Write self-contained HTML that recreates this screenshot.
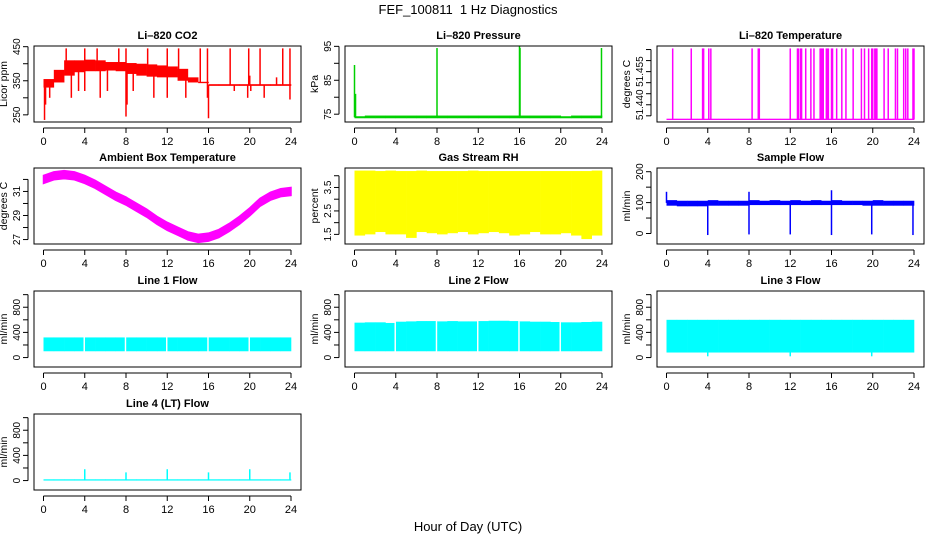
<!DOCTYPE html>
<html><head><meta charset="utf-8"><style>
body{margin:0;background:#fff}
svg{display:block;font-family:"Liberation Sans",Arial,sans-serif}
</style></head><body>
<svg id="chart" width="936" height="540" viewBox="0 0 936 540">
<text x="468" y="14" text-anchor="middle" font-size="13" style="white-space:pre">FEF_100811  1 Hz Diagnostics</text>
<text x="468" y="531" text-anchor="middle" font-size="13">Hour of Day (UTC)</text>
</svg>
<script>
// ---- data ----
const binHours = [0,1,2,3,4,5,6,7,8,9,10,11,12,13,14,15,16,17,18,19,20,21,22,23];
const co2Hi = [355,382,410,410,412,410,405,405,402,400,398,395,392,385,360,347,340,340,340,340,340,340,340,340];
const co2Lo = [330,345,365,375,378,378,380,378,370,365,362,360,360,350,345,343,335,335,335,335,335,335,335,335];
const co2Spikes = [[2.2,445],[4.0,445],[5.2,445],[7.3,445],[8.0,445],[10.1,445],[12.0,445],[13.1,445],[15.2,445],[15.9,445],[18.1,445],[19.9,445],[21.0,445],[23.2,445],[23.9,445],
 [0.1,235],[0.2,280],[0.6,300],[2.7,300],[3.4,320],[4.0,320],[5.5,300],[6.2,320],[8.0,245],[8.1,280],[8.7,320],[10.7,300],[12.0,300],[13.8,300],[16.0,240],[15.9,300],[18.5,320],[19.8,300],[20.1,320],[21.4,300],[23.9,295],[20.0,365],[22.6,360]];
const presHi = [74.4,74.6,74.6,74.6,74.6,74.6,74.6,74.6,74.6,74.6,74.6,74.6,74.6,74.6,74.6,74.6,74.6,74.6,74.6,74.6,74.4,74.6,74.6,74.6];
const presLo = [73.8,73.8,73.8,73.8,73.8,73.8,73.8,73.8,73.8,73.8,73.8,73.8,73.8,73.8,73.8,73.8,73.8,73.8,73.8,73.8,73.8,73.8,73.8,73.8];
const presSpikes = [[0.0,89.5],[0.1,81],[8.0,94.5],[16.0,95],[16.05,94.5],[23.95,94.5]];
const tempHi = [51.4337,51.4337,51.4337,51.4337,51.4337,51.4337,51.4337,51.4337,51.4337,51.4337,51.4337,51.4337,51.4337,51.4337,51.4337,51.4337,51.4337,51.4337,51.4337,51.4337,51.4337,51.4337,51.4337,51.4337];
const tempLo = [51.4331,51.4331,51.4331,51.4331,51.4331,51.4331,51.4331,51.4331,51.4331,51.4331,51.4331,51.4331,51.4331,51.4331,51.4331,51.4331,51.4331,51.4331,51.4331,51.4331,51.4331,51.4331,51.4331,51.4331];
const tempSpikes = [0.6,2.4,3.5,3.6,4.1,4.3,8.3,8.9,9.0,12.0,12.7,12.8,13.0,13.1,13.5,14.0,14.3,14.9,15.0,15.1,15.2,15.5,15.6,15.7,16.0,16.1,16.5,17.0,17.4,18.1,18.9,19.2,19.6,19.9,20.0,20.2,20.3,20.4,21.1,21.5,22.2,22.4,23.0,23.2,23.4,23.9,24.0].map(h=>[h,51.4655]);
const ambHours = [0,1,2,3,4,5,6,7,8,9,10,11,12,13,14,15,16,17,18,19,20,21,22,23,24];
const ambCenter = [32.0,32.3,32.4,32.3,32.0,31.6,31.1,30.6,30.2,29.7,29.2,28.6,28.1,27.7,27.3,27.1,27.2,27.5,28.0,28.6,29.3,30.1,30.6,30.9,31.0];
const rhHi = [4.22,4.22,4.2,4.22,4.2,4.2,4.22,4.2,4.2,4.2,4.2,4.22,4.2,4.2,4.2,4.2,4.2,4.2,4.2,4.2,4.2,4.2,4.2,4.22];
const rhLo = [1.45,1.5,1.6,1.5,1.5,1.35,1.6,1.55,1.5,1.55,1.6,1.5,1.55,1.6,1.55,1.45,1.5,1.6,1.5,1.5,1.55,1.45,1.3,1.45];
const sfHi = [108,106,106,106,108,106,106,106,108,106,108,106,108,106,108,106,108,106,106,106,108,106,106,106];
const sfLo = [90,88,88,88,90,90,90,90,92,92,92,92,92,92,92,92,92,92,92,90,90,90,90,90];
const sfSpikes = [[0.0,135],[4.0,-5],[8.0,135],[8.0,-3],[12.0,-3],[16.0,140],[16.0,-5],[19.9,-3],[23.9,-5]];
const l1Hi = [320,320,320,320,320,320,320,320,320,320,320,320,320,320,320,320,320,320,320,320,320,320,320,320];
const l1Lo = [100,100,100,100,100,100,100,100,100,100,100,100,100,100,100,100,100,100,100,100,100,100,100,100];
const l2Hi = [555,560,560,550,570,575,580,580,575,580,575,575,580,585,585,580,575,570,570,565,560,560,565,570];
const l2Lo = [100,100,100,100,100,100,100,100,100,100,100,100,100,100,100,100,100,100,100,100,100,100,100,100];
const l3Hi = [600,600,600,600,600,600,600,600,600,600,600,600,600,600,600,600,600,600,600,600,600,600,600,600];
const l3Lo = [80,80,80,80,80,80,80,80,80,80,80,80,80,80,80,80,80,80,80,80,80,80,80,80];
const l3Spikes = [[4.0,20],[12.0,20],[19.9,20]];
const l4Hi = [20,20,20,20,20,20,20,20,20,20,20,20,20,20,20,20,20,20,20,20,20,20,20,20];
const l4Lo = [0,0,0,0,0,0,0,0,0,0,0,0,0,0,0,0,0,0,0,0,0,0,0,0];
const l4Spikes = [[4.0,180],[8.0,130],[12.0,180],[16.0,130],[20.0,180],[23.9,130]];
const flowGaps = [4,8,12,16,20];
const xTicks = [0,4,8,12,16,20,24];

const svg = document.getElementById('chart');
const NS = 'http://www.w3.org/2000/svg';
function mk(tag, attrs, parent){const e=document.createElementNS(NS,tag);for(const k in attrs)e.setAttribute(k,attrs[k]);(parent||svg).appendChild(e);return e;}

const colX=[34,345,657], rowY=[46,168,291,414], BW=267, BH=76;
const flowTicks=[0,200,400,600,800,1000], flowLabels=[0,400,800];
const panels=[
 {name:'li820-co2',title:'Li\u2013820 CO2',ylab:'Licor ppm',c:0,r:0,ymin:229,ymax:452,color:'#ff0000',hi:co2Hi,lo:co2Lo,spikes:co2Spikes,ticks:[250,300,350,400,450],labels:[250,350,450]},
 {name:'li820-pressure',title:'Li\u2013820 Pressure',ylab:'kPa',c:1,r:0,ymin:72.7,ymax:95.1,color:'#00d000',hi:presHi,lo:presLo,spikes:presSpikes,ticks:[75,80,85,90,95],labels:[75,85,95]},
 {name:'li820-temperature',title:'Li\u2013820 Temperature',ylab:'degrees C',c:2,r:0,ymin:51.4322,ymax:51.4666,color:'#ff00ff',hi:tempHi,lo:tempLo,spikes:tempSpikes,ticks:[51.435,51.440,51.445,51.450,51.455,51.460,51.465],labels:[51.440,51.455],fmt:v=>v.toFixed(3)},
 {name:'ambient-box-temperature',title:'Ambient Box Temperature',ylab:'degrees C',c:0,r:1,ymin:26.63,ymax:32.95,color:'#ff00ff',curve:true,ticks:[27,28,29,30,31,32],labels:[27,29,31]},
 {name:'gas-stream-rh',title:'Gas Stream RH',ylab:'percent',c:1,r:1,ymin:1.09,ymax:4.33,color:'#ffff00',hi:rhHi,lo:rhLo,spikes:[],ticks:[1.5,2,2.5,3,3.5,4],labels:[1.5,2.5,3.5],fmt:v=>v.toFixed(1)},
 {name:'sample-flow',title:'Sample Flow',ylab:'ml/min',c:2,r:1,ymin:-34,ymax:212,color:'#0000ff',hi:sfHi,lo:sfLo,spikes:sfSpikes,ticks:[0,50,100,150,200],labels:[0,100,200]},
 {name:'line1-flow',title:'Line 1 Flow',ylab:'ml/min',c:0,r:2,ymin:-150,ymax:1058,color:'#00ffff',hi:l1Hi,lo:l1Lo,spikes:[],gaps:flowGaps,ticks:flowTicks,labels:flowLabels},
 {name:'line2-flow',title:'Line 2 Flow',ylab:'ml/min',c:1,r:2,ymin:-150,ymax:1058,color:'#00ffff',hi:l2Hi,lo:l2Lo,spikes:[],gaps:flowGaps,ticks:flowTicks,labels:flowLabels},
 {name:'line3-flow',title:'Line 3 Flow',ylab:'ml/min',c:2,r:2,ymin:-150,ymax:1058,color:'#00ffff',hi:l3Hi,lo:l3Lo,spikes:l3Spikes,ticks:flowTicks,labels:flowLabels},
 {name:'line4-lt-flow',title:'Line 4 (LT) Flow',ylab:'ml/min',c:0,r:3,ymin:-150,ymax:1058,color:'#00ffff',hi:l4Hi,lo:l4Lo,spikes:l4Spikes,ticks:flowTicks,labels:flowLabels}
];

panels.forEach(p=>{
 const L=colX[p.c], T=rowY[p.r];
 const g=mk('g',{});
 
 
 const xs=h=>L+9.5+h*(BW-19.5)/24;
 const ys=v=>T+BH*(p.ymax-v)/(p.ymax-p.ymin);
 const t=mk('text',{x:L+BW/2,y:T-7,'text-anchor':'middle','font-size':11,'font-weight':'bold'},g);
 t.textContent=p.title;
 
 
 const dg=mk('g',{fill:p.color,stroke:p.color},g);
 
 
 if(p.curve){
  let top=ambHours.map((h,i)=>xs(h)+','+ys(ambCenter[i]+0.33)).join(' ');
  let bot=ambHours.slice().reverse().map((h,j)=>{const i=ambHours.length-1-j;return xs(h)+','+ys(ambCenter[i]-0.33);}).join(' ');
  const pg=mk('polygon',{points:top+' '+bot,'stroke-width':1.5},dg);
  
  
 } else {
  binHours.forEach((h,i)=>{
   const x0=xs(h), x1=xs(h+1), y0=ys(p.hi[i]), y1=ys(p.lo[i]);
   const rc=mk('rect',{x:x0,y:y0,width:x1-x0+0.3,height:Math.max(1.2,y1-y0),stroke:'none'},dg);
   
   
  });
  (p.gaps||[]).forEach(h=>{
   const gr=mk('rect',{x:xs(h-0.12),y:T+1,width:xs(h+0.02)-xs(h-0.12),height:BH-2,fill:'#fff',stroke:'none'},g);
   
   
  });
  p.spikes.forEach(s=>{
   const i=Math.min(23,Math.floor(s[0]));
   const base=(p.hi[i]+p.lo[i])/2;
   const ln=mk('line',{x1:xs(s[0]),x2:xs(s[0]),y1:ys(base),y2:ys(s[1]),'stroke-width':1.5},dg);
   
   
  });
 }
 const bx=mk('rect',{x:L,y:T,width:BW,height:BH,fill:'none',stroke:'#000','stroke-width':1},g);
 
 
 const xa=mk('g',{stroke:'#000','font-size':11},g);
 
 
 mk('line',{x1:xs(0),x2:xs(24),y1:T+BH+6,y2:T+BH+6},xa);
 xTicks.forEach(h=>{
  mk('line',{x1:xs(h),x2:xs(h),y1:T+BH+6,y2:T+BH+11},xa);
  const tx=mk('text',{x:xs(h),y:T+BH+23,'text-anchor':'middle',stroke:'none',fill:'#000'},xa);
  tx.textContent=h;
 });
 const ya=mk('g',{stroke:'#000','font-size':10},g);
 
 
 const tv=p.ticks;
 mk('line',{x1:L-6,x2:L-6,y1:ys(tv[0]),y2:ys(tv[tv.length-1])},ya);
 tv.forEach(v=>mk('line',{x1:L-11,x2:L-6,y1:ys(v),y2:ys(v)},ya));
 p.labels.forEach(v=>{
  const yy=ys(v);
  const tx=mk('text',{x:L-14,y:yy,'text-anchor':'middle',stroke:'none',fill:'#000',transform:`rotate(-90 ${L-14} ${yy})`},ya);
  tx.textContent=p.fmt?p.fmt(v):v;
 });
 const yl=mk('text',{x:L-27,y:T+BH/2,'text-anchor':'middle','font-size':10.5,transform:`rotate(-90 ${L-27} ${T+BH/2})`},g);
 yl.textContent=p.ylab;
 
 
});
</script>
</body></html>
